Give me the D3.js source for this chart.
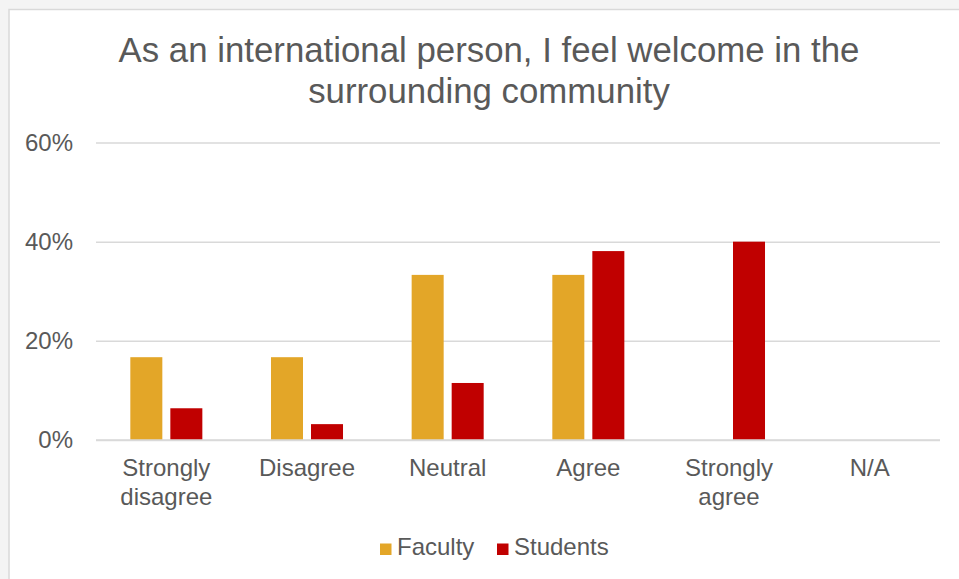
<!DOCTYPE html>
<html><head><meta charset="utf-8">
<script src="https://cdn.jsdelivr.net/npm/d3@7"></script>
<style>
html,body{margin:0;padding:0;background:#f4f4f4;}
svg{display:block;font-family:"Liberation Sans",Arial,sans-serif;}
</style></head><body>
<svg id="c" width="959" height="579"></svg>
<script>
const categories = ["Strongly disagree","Disagree","Neutral","Agree","Strongly agree","N/A"];
const seriesNames = ["Faculty","Students"];
const faculty = [16.7, 16.7, 33.3, 33.3, 0, 0];
const students = [6.4, 3.2, 11.5, 38.1, 40.0, 0];
const yTicks = [0, 20, 40, 60];
const colors = ["#E3A628", "#C00000"];
const titleLines = ["As an international person, I feel welcome in the", "surrounding community"];

const svg = d3.select("#c");
svg.append("rect").attr("x",9).attr("y",9.5).attr("width",960).attr("height",580)
  .attr("fill","#fff").attr("stroke","#d9d9d9").attr("stroke-width",1.5);

const m = {left:96, right:940, top:142.5, bottom:440};
const x0 = d3.scaleBand().domain(categories).range([m.left, m.right]).paddingInner(0.488).paddingOuter(0.244);
const x1 = d3.scaleBand().domain(seriesNames).range([0, x0.bandwidth()]).paddingInner(0.2);
const y = d3.scaleLinear().domain([0,60]).range([m.bottom, m.top]);

// title
svg.append("text").attr("x",489).attr("y",62).attr("text-anchor","middle")
  .attr("font-size",34.8).attr("fill","#595959")
  .selectAll("tspan").data(titleLines).join("tspan")
  .attr("x",489).attr("dy",(d,i)=>i?41:0).text(d=>d);

// gridlines
const yAxis = d3.axisLeft(y).tickValues(yTicks).tickFormat(d=>d+"%").tickSize(-(m.right-m.left)).tickPadding(23);
const gy = svg.append("g").attr("transform",`translate(${m.left},0)`).call(yAxis);
gy.select(".domain").remove();
gy.selectAll(".tick line").attr("stroke","#d9d9d9").attr("stroke-width",1.5);
gy.selectAll(".tick text").attr("font-size",24).attr("fill","#595959").attr("font-family","Liberation Sans, Arial, sans-serif");

// bars
const data = categories.map((c,i)=>({cat:c, vals:[faculty[i], students[i]]}));
const groups = svg.append("g").selectAll("g").data(data).join("g")
  .attr("transform",d=>`translate(${x0(d.cat)},0)`);
groups.selectAll("rect").data(d=>d.vals.map((v,j)=>({s:seriesNames[j], v, j})))
  .join("rect")
  .attr("x",d=>x1(d.s)).attr("width",x1.bandwidth())
  .attr("y",d=>y(d.v)).attr("height",d=>y(0)-y(d.v))
  .attr("fill",d=>colors[d.j]);

// redraw baseline on top
svg.append("line").attr("x1",m.left).attr("x2",m.right).attr("y1",y(0)).attr("y2",y(0))
  .attr("stroke","#d9d9d9").attr("stroke-width",1.5);

// x axis labels
const xAxis = d3.axisBottom(x0).tickSize(0).tickPadding(0);
const gx = svg.append("g").attr("transform",`translate(0,${m.bottom})`).call(xAxis);
gx.select(".domain").remove();
gx.selectAll(".tick text").each(function(d){
  const t = d3.select(this);
  t.text(null).attr("font-size",24).attr("fill","#595959").attr("font-family","Liberation Sans, Arial, sans-serif").attr("dy",null).attr("y",36);
  const words = d.split(" ");
  const lines = words.length>1 ? [words[0], words.slice(1).join(" ")] : [d];
  lines.forEach((l,i)=>t.append("tspan").attr("x",0).attr("dy",i?28.5:0).text(l));
});

// legend
const legend = svg.append("g");
const legX = [380, 497];
seriesNames.forEach((s,i)=>{
  legend.append("rect").attr("x",legX[i]).attr("y",543.5).attr("width",11.5).attr("height",11.5).attr("fill",colors[i]);
  legend.append("text").attr("x",legX[i]+17).attr("y",555).attr("font-size",24).attr("fill","#595959").text(s);
});
</script>
</body></html>
